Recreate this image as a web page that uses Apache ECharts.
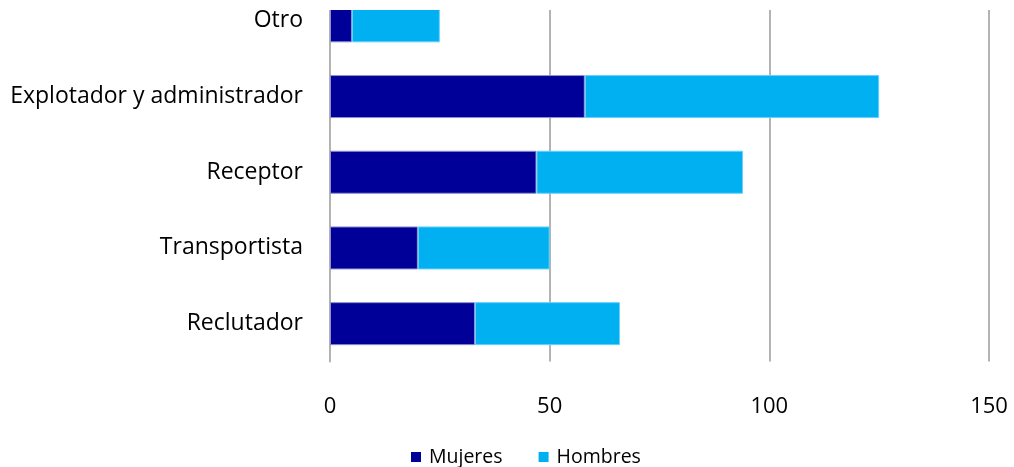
<!DOCTYPE html>
<html><head><meta charset="utf-8">
<script src="https://cdn.jsdelivr.net/npm/echarts@6/dist/echarts.min.js"></script>
<style>html,body{margin:0;padding:0;background:#fff}#c{width:1014px;height:467px}</style>
</head><body><div id="c"></div>
<script>
const categories = ['Reclutador', 'Transportista', 'Receptor', 'Explotador y administrador', 'Otro'];
const mujeres = [33, 20, 47, 58, 5];
const hombres = [33, 30, 47, 67, 20];
const xTicks = [0, 50, 100, 150];

const chart = echarts.init(document.getElementById('c'));
const font = 'Open Sans';
chart.setOption({
  animation: false,
  grid: { left: 330, right: 25, top: -17, height: 378.5, containLabel: false, outerBoundsMode: 'none' },
  legend: {
    top: 442, left: 406, itemWidth: 10, itemHeight: 10, itemGap: 36,
    icon: 'rect',
    itemStyle: { borderWidth: 0 },
    textStyle: { fontFamily: font, fontSize: 19.5, color: '#000', padding: [0, 0, 0, 3] },
    data: ['Mujeres', 'Hombres']
  },
  graphic: [{
    type: 'rect', z: 100, left: 0, top: 0,
    shape: { width: 1014, height: 10 },
    style: { fill: '#fff' }
  }],
  xAxis: {
    type: 'value', min: 0, max: 150, interval: 50,
    axisLine: { show: false }, axisTick: { show: false },
    splitLine: { show: true, lineStyle: { color: '#B3B3B3', width: 2 } },
    axisLabel: { fontFamily: font, fontSize: 22, color: '#000', margin: 34,
      formatter: v => xTicks.includes(v) ? String(v) : '' }
  },
  yAxis: {
    type: 'category', data: categories,
    axisLine: { show: true, lineStyle: { color: '#B3B3B3', width: 2 } },
    axisTick: { show: false },
    axisLabel: { fontFamily: font, fontSize: 23, color: '#000', margin: 27 }
  },
  series: [
    { name: 'Mujeres', type: 'bar', stack: 't', data: mujeres, barWidth: 43,
      itemStyle: { color: '#000099', borderColor: '#8d8dd0', borderWidth: 1 } },
    { name: 'Hombres', type: 'bar', stack: 't', data: hombres, barWidth: 43,
      itemStyle: { color: '#00B0F0', borderColor: '#66d0ff', borderWidth: 1 } }
  ]
});
</script></body></html>
